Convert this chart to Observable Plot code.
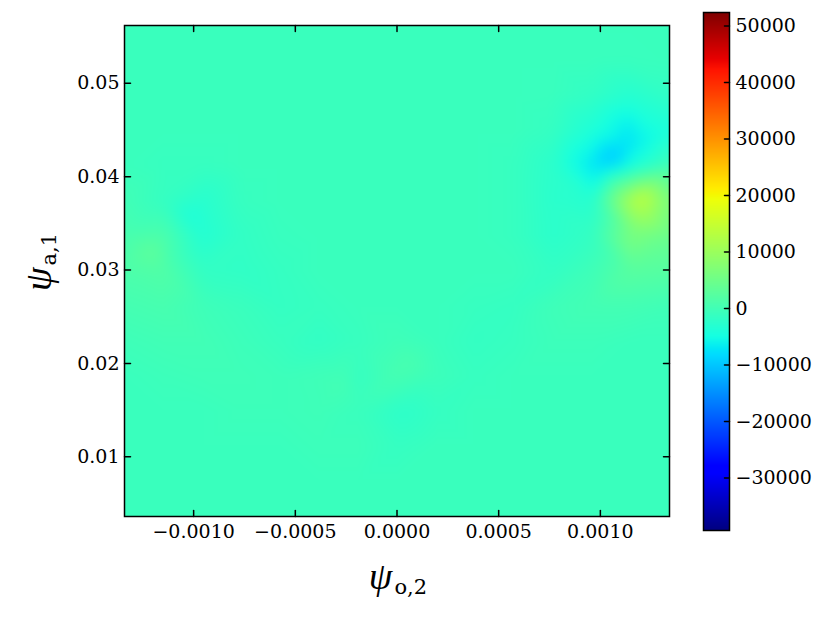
<!DOCTYPE html>
<html><head><meta charset="utf-8">
<script src="https://cdn.jsdelivr.net/npm/d3@7"></script>
<script src="https://cdn.jsdelivr.net/npm/@observablehq/plot@0.6"></script>
<style>
body{margin:0;background:#fff;}
#wrap{position:relative;width:830px;height:623px;}
#main{position:absolute;left:0;top:0;}
#cbar{position:absolute;left:690px;top:0;}
</style></head><body><div id="wrap"><div id="main"></div><div id="cbar"></div></div>
<script>
// ---- axes / ticks ----
const xDomain = [-0.00134, 0.00134];
const yDomain = [0.0036, 0.0562];
const cDomain = [-39300, 52400];
const xTicks = [-0.001, -0.0005, 0, 0.0005, 0.001];
const yTicks = [0.01, 0.02, 0.03, 0.04, 0.05];
const cTicks = [-30000, -20000, -10000, 0, 10000, 20000, 30000, 40000, 50000];

const gridX = [-0.00134, -0.001149, -0.000957, -0.000766, -0.000574, -0.000383, -0.000191, 0,
               0.000191, 0.000383, 0.000574, 0.000766, 0.000957, 0.001149, 0.00134];
const gridY = [0.0562, 0.05244, 0.04869, 0.04493, 0.04117, 0.03741, 0.03366, 0.0299,
               0.02614, 0.02239, 0.01863, 0.01487, 0.01112, 0.00736, 0.0036];
const gridV = [
  [-800,-800,-800,-800,-800,-800,-800,-800,-800,-800,-800,-800,-800,-800,-800],
  [-800,-800,-800,-800,-800,-800,-800,-800,-800,-800,-800,-800,-800,-900,-800],
  [-800,-800,-800,-800,-800,-800,-800,-800,-800,-800,-800,-900,-1600,-3000,-1800],
  [-800,-800,-800,-800,-800,-800,-800,-800,-800,-800,-800,-1300,-3800,-7000,-4000],
  [-800,-1100,-1100,-800,-800,-800,-800,-800,-800,-800,-1100,-2400,-7000,-4500,-200],
  [0,-1300,-2800,-1100,-800,-800,-800,-800,-800,-800,-1100,-2500,-3000,11500,6500],
  [700,1200,-3300,-1600,-1000,-800,-800,-800,-800,-800,-1100,-2400,-1500,6500,4500],
  [1200,1700,-1600,-1800,-1300,-800,-800,-800,-800,-800,-800,-1600,-300,2500,2200],
  [400,700,-300,-800,-1400,-1100,-800,-800,-800,-1100,-1300,-300,200,200,-200],
  [-300,0,0,-500,-1000,-1600,-1000,-300,-800,-1400,-1100,-500,-500,-800,-800],
  [-800,-500,-300,-300,-500,-200,-1300,500,-500,-1100,-800,-800,-800,-800,-800],
  [-800,-800,-800,-500,-500,-300,-800,-2100,-1300,-800,-800,-800,-800,-800,-800],
  [-800,-800,-800,-800,-800,-500,-500,-1300,-800,-800,-800,-800,-800,-800,-800],
  [-800,-800,-800,-800,-800,-800,-800,-800,-800,-800,-800,-800,-800,-800,-800],
  [-800,-800,-800,-800,-800,-800,-800,-800,-800,-800,-800,-800,-800,-800,-800]
];
const spotX = [0.00106, 0.001001, 0.001124, 0.001207, 0.001196, 0.001222, 0.001256, 0.001158,
               -0.001197, -0.001015, 0.000032, 0.000032, -0.000263];
const spotY = [0.04195, 0.04067, 0.04334, 0.04581, 0.03767, 0.03552, 0.03906, 0.03402,
               0.0321, 0.03585, 0.01999, 0.01495, 0.01785];
const spotV = [-10000, -6500, -7500, -4500, 14500, 10000, 8000, 6000,
               3200, -4000, 900, -2200, 200];

// ---- jet colormap ----
const jetR = [[0,0],[0.35,0],[0.66,1],[0.89,1],[1,0.5]];
const jetG = [[0,0],[0.125,0],[0.375,1],[0.64,1],[0.91,0],[1,0]];
const jetB = [[0,0.5],[0.11,1],[0.34,1],[0.65,0],[1,0]];
function seg(p, t) {
  for (let i = 1; i < p.length; i++) {
    if (t <= p[i][0]) { const [a0,b0] = p[i-1], [a1,b1] = p[i]; return b0 + (b1-b0)*(t-a0)/(a1-a0); }
  }
  return p[p.length-1][1];
}
const jet = (t) => {
  t = Math.max(0, Math.min(1, t));
  return `rgb(${Math.round(255*seg(jetR,t))},${Math.round(255*seg(jetG,t))},${Math.round(255*seg(jetB,t))})`;
};

const pts = [];
gridV.forEach((row, i) => row.forEach((v, j) => pts.push({x: gridX[j], y: gridY[i], v})));
spotV.forEach((v, k) => pts.push({x: spotX[k], y: spotY[k], v}));

const tickShape = {draw(ctx, l) { ctx.moveTo(0, 0); ctx.lineTo(0, -l); }};
const font = "'DejaVu Serif', serif";
const psiFont = "'Liberation Serif', 'DejaVu Serif', serif";

const main = Plot.plot({
  width: 690, height: 623,
  marginLeft: 124, marginRight: 21, marginTop: 25, marginBottom: 107,
  x: {domain: xDomain}, y: {domain: yDomain},
  color: {type: "linear", domain: cDomain, interpolate: jet},
  style: {fontFamily: font, fontSize: "19px", color: "#000", background: "#fff", overflow: "visible"},
  marks: [
    Plot.raster(pts, {x: "x", y: "y", fill: "v", interpolate: "barycentric",
      x1: xDomain[0], x2: xDomain[1], y1: yDomain[0], y2: yDomain[1], pixelSize: 1, blur: 6}),
    Plot.vector(xTicks, {x: d => d, frameAnchor: "bottom", length: 6, rotate: 0, anchor: "start", shape: tickShape, stroke: "#000"}),
    Plot.vector(xTicks, {x: d => d, frameAnchor: "top", length: 6, rotate: 180, anchor: "start", shape: tickShape, stroke: "#000"}),
    Plot.vector(yTicks, {y: d => d, frameAnchor: "left", length: 6, rotate: 90, anchor: "start", shape: tickShape, stroke: "#000"}),
    Plot.vector(yTicks, {y: d => d, frameAnchor: "right", length: 6, rotate: -90, anchor: "start", shape: tickShape, stroke: "#000"}),
    Plot.axisX(xTicks, {tickSize: 0, tickPadding: 8, tickFormat: d3.format(".4f"), label: null, fontSize: 19}),
    Plot.axisY(yTicks, {tickSize: 0, tickPadding: 5, tickFormat: d3.format(".2f"), label: null, fontSize: 19}),
    Plot.frame({stroke: "#000", strokeWidth: 1.5})
  ]
});
document.getElementById("main").appendChild(main);

// axis labels with subscripts
const svgM = d3.select(main);
const xl = svgM.append("text").attr("x", 398).attr("y", 589).attr("text-anchor", "middle")
  .attr("fill", "#000");
xl.append("tspan").attr("font-family", psiFont).attr("font-size", 38).attr("font-style", "italic").text("ψ");
xl.append("tspan").attr("font-family", font).attr("font-size", 21).attr("dx", 2).attr("dy", 5).text("o,2");
const yl = svgM.append("text").attr("transform", "translate(51,262) rotate(-90)").attr("text-anchor", "middle")
  .attr("fill", "#000");
yl.append("tspan").attr("font-family", psiFont).attr("font-size", 38).attr("font-style", "italic").text("ψ");
yl.append("tspan").attr("font-family", font).attr("font-size", 21).attr("dx", 2).attr("dy", 5).text("a,1");

const cbar = Plot.plot({
  width: 140, height: 623,
  marginLeft: 13, marginRight: 101, marginTop: 12, marginBottom: 93,
  x: {domain: [0, 1], axis: null}, y: {domain: cDomain, axis: null},
  color: {type: "linear", domain: cDomain, interpolate: jet},
  style: {fontFamily: font, fontSize: "19px", color: "#000", background: "#fff", overflow: "visible"},
  marks: [
    Plot.raster({fill: (x, y) => y, x1: 0, x2: 1, y1: cDomain[0], y2: cDomain[1], pixelSize: 1}),
    Plot.vector(cTicks, {y: d => d, frameAnchor: "right", length: 5, rotate: -90, anchor: "start", shape: tickShape, stroke: "#000"}),
    Plot.axisY(cTicks, {anchor: "right", tickSize: 0, tickPadding: 6, tickFormat: d3.format("d"), label: null, fontSize: 19}),
    Plot.frame({stroke: "#000", strokeWidth: 1.5})
  ]
});
document.getElementById("cbar").appendChild(cbar);
</script></body></html>
